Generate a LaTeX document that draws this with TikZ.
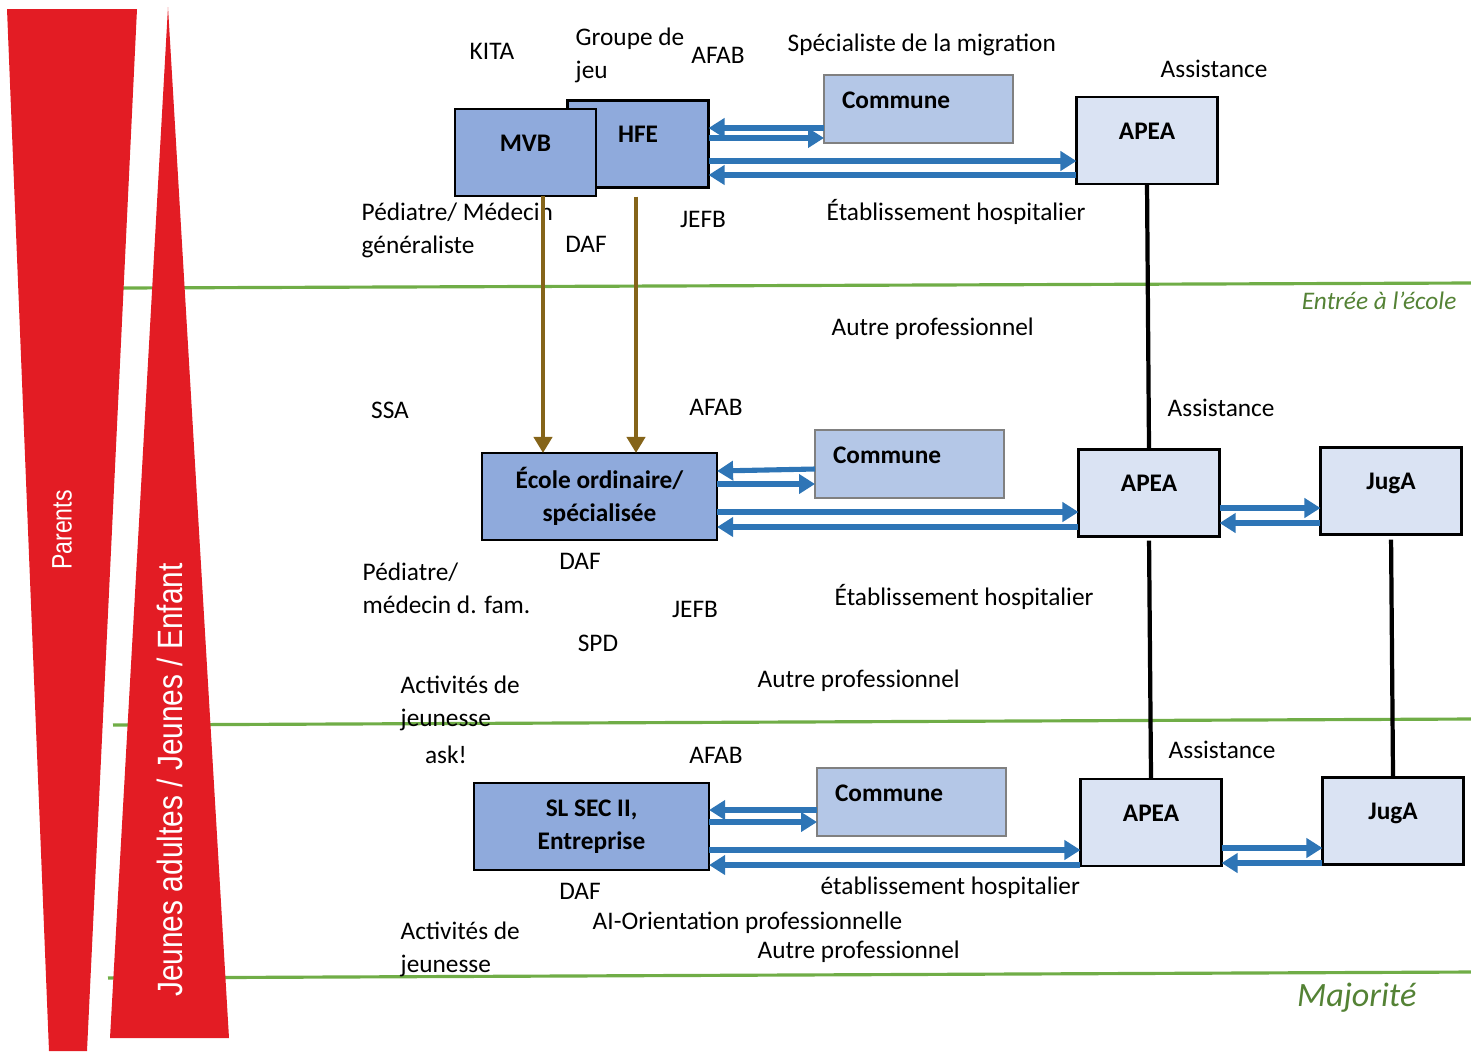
\documentclass[tikz,border=0pt]{standalone}
\usepackage{fontspec}
\setmainfont{Carlito}
\newfontfamily\barfont{Liberation Sans}
\usetikzlibrary{arrows.meta}

\definecolor{boxblue}{RGB}{143,170,220}
\definecolor{comblue}{RGB}{180,199,231}
\definecolor{paleblue}{RGB}{218,227,243}
\definecolor{arrblue}{RGB}{46,117,182}
\definecolor{brownarr}{RGB}{133,100,25}
\definecolor{redbar}{RGB}{227,28,36}
\definecolor{lgreen}{RGB}{112,173,71}
\definecolor{dgreen}{RGB}{84,130,53}

\tikzset{
  txt/.style={font=\fontsize{7.2}{9.4}\selectfont, inner sep=0pt, anchor=west, text height=4.6pt, text depth=0pt},
  txtt/.style={font=\fontsize{7.2}{9.4}\selectfont, inner sep=0pt, anchor=west, align=left},
  unit/.style={draw, line width=0.75pt, fill=boxblue, font=\bfseries\fontsize{7.2}{9.4}\selectfont, inner sep=0pt, outer sep=0pt, minimum width=1.41cm, minimum height=0.87cm, text height=0.16cm, text depth=0.19cm},
  wide/.style={draw, line width=0.75pt, fill=boxblue, font=\bfseries\fontsize{7.2}{9.4}\selectfont, inner sep=0pt, outer sep=0pt, minimum width=2.35cm, minimum height=0.87cm, align=center},
  auth/.style={unit, fill=paleblue},
  commune/.style={draw=gray, line width=0.5pt, fill=comblue, font=\bfseries\fontsize{7.2}{9.4}\selectfont, anchor=north west, outer sep=0pt, inner xsep=0.18cm, inner ysep=0.17cm, text width=1.53cm, text height=0.16cm, text depth=0.18cm, align=left},
  flow/.style={draw=arrblue, line width=1.45pt, -{Triangle[length=0.16cm,width=0.19cm]}},
  down/.style={draw=brownarr, line width=1.35pt, -{Triangle[length=0.16cm,width=0.18cm]}},
  link/.style={line width=1.2pt},
  age/.style={draw=lgreen, line width=0.9pt},
}

\begin{document}
\begin{tikzpicture}[x=0.01cm, y=-0.01cm]
  \useasboundingbox (0,0) rectangle (1471,1051);

  % age limits
  \draw[age] (122,288) -- (1471,283);
  \draw[age] (113,725) -- (1471,719);
  \draw[age] (108,978) -- (1471,972);
  \node[txt, anchor=east, text=dgreen, font=\itshape\fontsize{7.2}{9.4}\selectfont] (ecole) at (1457,301) {Entrée à l'école};
  \node[txt, anchor=east, text=dgreen, font=\itshape\fontsize{9.7}{11}\selectfont, text height=6.2pt] (maj) at (1417,996) {Majorité};

  % red bars
  \fill[redbar] (7,9) -- (137,9) -- (87,1051) -- (49,1051) -- cycle;
  \fill[redbar] (168,7) -- (229,1038) -- (110,1038) -- cycle;
  \node[rotate=90, text=white, font=\barfont\fontsize{8}{9}\selectfont] (P) at (62,530) {\scalebox{0.82}[1]{Parents}};
  \node[rotate=90, text=white, font=\barfont\fontsize{10}{11}\selectfont] (J) at (170,780) {\scalebox{0.85}[1]{Jeunes adultes / Jeunes / Enfant}};

  % boxes
  \node[unit] (HFE) at (638,144) {HFE};
  \node[unit] (MVB) at (525.5,152.5) {MVB};
  \node[commune] (C1) at (824,75) {Commune};
  \node[auth] (A1) at (1147,140.5) {APEA};

  \node[wide] (S2) at (599.5,496.5) {École ordinaire/\\spécialisée};
  \node[commune] (C2) at (815,430) {Commune};
  \node[auth] (A2) at (1149,493) {APEA};
  \node[auth] (J2) at (1391,491) {JugA};

  \node[wide] (S3) at (591.5,826.5) {SL SEC II,\\Entreprise};
  \node[commune] (C3) at (817,768) {Commune};
  \node[auth] (A3) at (1151,822.5) {APEA};
  \node[auth] (J3) at (1393,821) {JugA};

  % labels
  \node[txt, anchor=center] (kita) at (492,51) {KITA};
  \node[txtt] (grp) at (575,55) {Groupe de\\jeu};
  \node[txt, anchor=center] (afab1) at (718,55) {AFAB};
  \node[txt] (mig) at (787,43) {Spécialiste de la migration};
  \node[txt] (as1) at (1160,69) {Assistance};
  \node[txtt] (ped1) at (361,230) {Pédiatre/ Médecin\\généraliste};
  \node[txt, anchor=center] (daf1) at (586,244) {DAF};
  \node[txt, anchor=center] (jefb1) at (703,219) {JEFB};
  \node[txt] (hop1) at (826,212) {Établissement hospitalier};
  \node[txt] (aut1) at (831,327) {Autre professionnel};

  \node[txt, anchor=center] (ssa) at (390,410) {SSA};
  \node[txt, anchor=center] (afab2) at (716,407) {AFAB};
  \node[txt] (as2) at (1167,408) {Assistance};
  \node[txt, anchor=center] (daf2) at (580,561) {DAF};
  \node[txtt] (ped2) at (362,588) {Pédiatre/\\médecin d. fam.};
  \node[txt, anchor=center] (jefb2) at (695,609) {JEFB};
  \node[txt] (hop2) at (834,597) {Établissement hospitalier};
  \node[txt, anchor=center] (spd) at (598,643) {SPD};
  \node[txtt] (act1) at (400,703) {Activités de\\jeunesse};
  \node[txt] (aut2) at (757,679) {Autre professionnel};

  \node[txt, anchor=center] (ask) at (446,755) {ask!};
  \node[txt, anchor=center] (afab3) at (716,755) {AFAB};
  \node[txt] (as3) at (1168,750) {Assistance};
  \node[txt, anchor=center] (daf3) at (580,891) {DAF};
  \node[txt] (hop3) at (820,886) {établissement hospitalier};
  \node[txt] (ai) at (592,921) {AI-Orientation professionnelle};
  \node[txtt] (act2) at (400,949) {Activités de\\jeunesse};
  \node[txt] (aut3) at (757,950) {Autre professionnel};

  % exchanges
  \draw[flow] (C1.west |- 0,128) -- (HFE.east |- 0,128);
  \draw[flow] (HFE.east |- 0,138) -- (C1.west |- 0,138);
  \draw[flow] (HFE.east |- 0,161) -- (A1.west |- 0,161);
  \draw[flow] (A1.west |- 0,175) -- (HFE.east |- 0,175);

  \draw[flow] (C2.west |- 0,469) -- (S2.east |- 0,471);
  \draw[flow] (S2.east |- 0,484) -- (C2.west |- 0,484);
  \draw[flow] (S2.east |- 0,512) -- (A2.west |- 0,512);
  \draw[flow] (A2.west |- 0,527) -- (S2.east |- 0,527);
  \draw[flow] (A2.east |- 0,508) -- (J2.west |- 0,508);
  \draw[flow] (J2.west |- 0,523) -- (A2.east |- 0,523);

  \draw[flow] (C3.west |- 0,810) -- (S3.east |- 0,810);
  \draw[flow] (S3.east |- 0,822) -- (C3.west |- 0,822);
  \draw[flow] (S3.east |- 0,850) -- (A3.west |- 0,850);
  \draw[flow] (A3.west |- 0,865) -- (S3.east |- 0,865);
  \draw[flow] (A3.east |- 0,848) -- (J3.west |- 0,848);
  \draw[flow] (J3.west |- 0,863) -- (A3.east |- 0,863);

  % school entry
  \draw[down] (MVB.south -| 543,0) -- (S2.north -| 543,0);
  \draw[down, shorten <=0.09cm] (HFE.south -| 636,0) -- (S2.north -| 636,0);

  % authority chain
  \draw[link] (A1.south) -- (A2.north);
  \draw[link, shorten <=0.04cm] (A2.south) -- (A3.north);
  \draw[link, shorten <=0.05cm] (J2.south) -- (J3.north);
\end{tikzpicture}
\end{document}
